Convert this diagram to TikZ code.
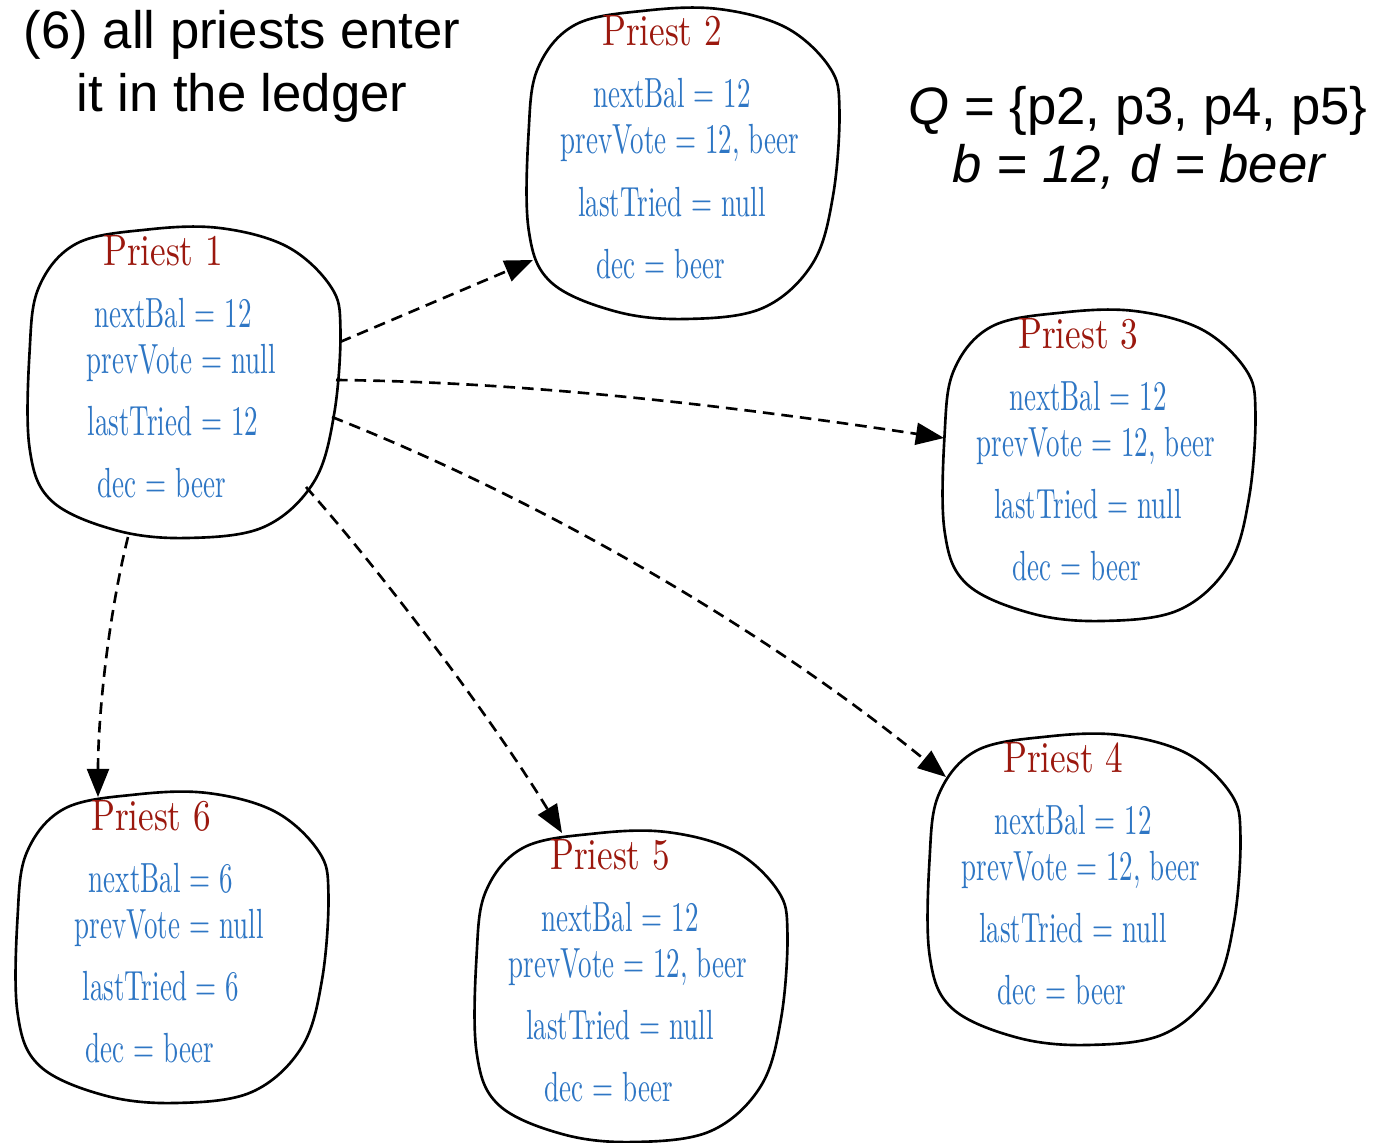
\documentclass[tikz,border=0pt]{standalone}
\usepackage{fontspec}
\usetikzlibrary{arrows.meta,calc}

\newfontfamily\arialfont{Liberation Sans}
\newfontfamily\handfont[FakeStretch=0.64]{lmroman10-regular.otf}
\newfontfamily\handtitlefont[FakeStretch=0.8]{lmroman10-regular.otf}

\definecolor{handred}{RGB}{155,24,14}
\definecolor{handblue}{RGB}{46,118,196}

\tikzset{
  blobnode/.style={rectangle, draw=none, inner sep=0pt,
                   minimum width=6.28cm, minimum height=6.2cm},
  blobline/.style={line width=1.5pt, line join=round},
  titletext/.style={anchor=base, inner sep=0pt, text=handred,
                    font=\handtitlefont\fontsize{25}{25}\selectfont},
  valtext/.style={anchor=base, inner sep=0pt, text=handblue,
                  font=\handfont\fontsize{24}{24}\selectfont},
  headtext/.style={anchor=base, inner sep=0pt,
                   font=\arialfont\fontsize{30}{30}\selectfont},
  conn/.style={line width=1.5pt, dash pattern=on 6.6pt off 4pt,
               -{Triangle[length=16pt,width=12.5pt]}},
}

% #1 name, #2/#3 centre, #4 number, #5 nextBal, #6 prevVote, #7 lastTried, #8 dec
\newcommand{\priestblob}[8]{%
  \node[blobnode] (#1) at (#2,#3) {};
  \draw[blobline, shift={(#1)}, xscale=157, yscale=155]
    plot[smooth cycle, tension=0.6] coordinates {
      (-0.24,-0.99) (0.22,-1.0) (0.65,-0.88) (0.93,-0.62) (0.99,-0.35)
      (0.95,0.20) (0.82,0.64) (0.50,0.93) (0.01,1.0) (-0.44,0.95)
      (-0.85,0.76) (-0.99,0.42) (-0.99,-0.2) (-0.93,-0.62) (-0.69,-0.9)};
  \node[titletext] (#1t) at ($(#1)+(-22,-118)$) {Priest #4};
  \node[valtext] (#1a) at ($(#1)+(-12,-56)$) {nextBal = #5};
  \node[valtext] (#1b) at ($(#1)+(-4,-10)$) {prevVote = #6};
  \node[valtext] (#1c) at ($(#1)+(-12,52)$) {lastTried = #7};
  \node[valtext] (#1d) at ($(#1)+(-23,114)$) {dec = #8};
}

\begin{document}
\begin{tikzpicture}[x=0.02cm, y=-0.02cm]
  \useasboundingbox (0,0) rectangle (1378,1142);

  % headings
  \node[headtext] (head1) at (242,49) {(6) all priests enter};
  \node[headtext] (head2) at (242,112) {it in the ledger};
  \node[headtext] (quorum) at (1138,125) {\itshape Q\upshape{} = \{p2, p3, p4, p5\}};
  \node[headtext] (ballot) at (1139,183) {\itshape b = 12, d = beer};

  % the six priests
  \priestblob{p1}{185}{383}{1}{12}{null}{12}{beer}
  \priestblob{p2}{684}{164}{2}{12}{12, beer}{null}{beer}
  \priestblob{p3}{1100}{466}{3}{12}{12, beer}{null}{beer}
  \priestblob{p4}{1085}{890}{4}{12}{12, beer}{null}{beer}
  \priestblob{p5}{632}{987}{5}{12}{12, beer}{null}{beer}
  \priestblob{p6}{173}{948}{6}{6}{null}{6}{beer}

  % messages from priest 1
  \draw[conn] ($(p1)+(155,-41)$) -- ($(p2)+(-151,96)$);
  \draw[conn] ($(p1)+(151,-3)$) .. controls +(200,2) and +(-200,-30) .. ($(p3)+(-156,-28)$);
  \draw[conn] ($(p1)+(147,34)$) .. controls +(200,79) and +(-192,-156) .. ($(p4)+(-139,-113)$);
  \draw[conn] ($(p1)+(121,104)$) .. controls +(80,90) and +(-65,-107) .. ($(p5)+(-70,-154)$);
  \draw[conn] ($(p1)+(-57,154)$) .. controls +(-20,80) and +(0,-80) .. ($(p6)+(-75,-151)$);
\end{tikzpicture}
\end{document}
